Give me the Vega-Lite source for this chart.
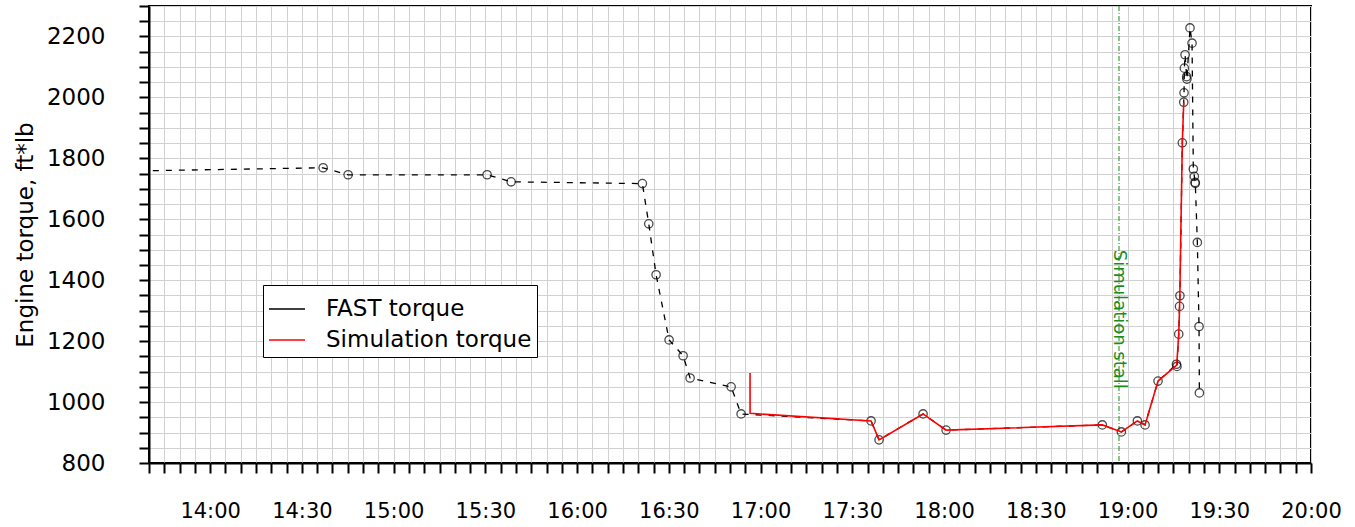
{
  "$schema": "https://vega.github.io/schema/vega-lite/v6.json",
  "autosize": {"type": "none"},
  "padding": {"left": 149, "top": 6, "right": 44, "bottom": 64},
  "width": 1162,
  "height": 457,
  "background": "white",
  "config": {
    "font": "DejaVu Sans",
    "view": {"stroke": "black", "strokeWidth": 2},
    "axis": {"labelColor": "black", "titleColor": "black", "tickColor": "black", "domainColor": "black"},
    "axisY": {"grid": true, "gridColor": "#d2d2d2"}
  },
  "datasets": {
    "torque": [
      {"series": "FAST torque", "time": "2024-01-01T13:20:00", "torque": 1756},
      {"series": "FAST torque", "time": "2024-01-01T14:36:57", "torque": 1769},
      {"series": "FAST torque", "time": "2024-01-01T14:45:07", "torque": 1746},
      {"series": "FAST torque", "time": "2024-01-01T15:30:34", "torque": 1746},
      {"series": "FAST torque", "time": "2024-01-01T15:38:25", "torque": 1723},
      {"series": "FAST torque", "time": "2024-01-01T16:21:21", "torque": 1717},
      {"series": "FAST torque", "time": "2024-01-01T16:23:26", "torque": 1585},
      {"series": "FAST torque", "time": "2024-01-01T16:25:50", "torque": 1418},
      {"series": "FAST torque", "time": "2024-01-01T16:30:05", "torque": 1204},
      {"series": "FAST torque", "time": "2024-01-01T16:34:40", "torque": 1152},
      {"series": "FAST torque", "time": "2024-01-01T16:36:57", "torque": 1079},
      {"series": "FAST torque", "time": "2024-01-01T16:50:22", "torque": 1050},
      {"series": "FAST torque", "time": "2024-01-01T16:53:38", "torque": 961},
      {"series": "FAST torque", "time": "2024-01-01T17:36:08", "torque": 938},
      {"series": "FAST torque", "time": "2024-01-01T17:38:45", "torque": 876},
      {"series": "FAST torque", "time": "2024-01-01T17:53:08", "torque": 961},
      {"series": "FAST torque", "time": "2024-01-01T18:00:40", "torque": 908},
      {"series": "FAST torque", "time": "2024-01-01T18:51:46", "torque": 925},
      {"series": "FAST torque", "time": "2024-01-01T18:57:59", "torque": 902},
      {"series": "FAST torque", "time": "2024-01-01T19:03:13", "torque": 938},
      {"series": "FAST torque", "time": "2024-01-01T19:05:44", "torque": 925},
      {"series": "FAST torque", "time": "2024-01-01T19:09:59", "torque": 1069},
      {"series": "FAST torque", "time": "2024-01-01T19:16:00", "torque": 1124},
      {"series": "FAST torque", "time": "2024-01-01T19:16:10", "torque": 1117},
      {"series": "FAST torque", "time": "2024-01-01T19:16:45", "torque": 1223},
      {"series": "FAST torque", "time": "2024-01-01T19:17:00", "torque": 1314},
      {"series": "FAST torque", "time": "2024-01-01T19:17:08", "torque": 1349},
      {"series": "FAST torque", "time": "2024-01-01T19:17:55", "torque": 1851},
      {"series": "FAST torque", "time": "2024-01-01T19:18:23", "torque": 1984},
      {"series": "FAST torque", "time": "2024-01-01T19:18:29", "torque": 2015},
      {"series": "FAST torque", "time": "2024-01-01T19:18:35", "torque": 2096},
      {"series": "FAST torque", "time": "2024-01-01T19:18:49", "torque": 2140},
      {"series": "FAST torque", "time": "2024-01-01T19:19:20", "torque": 2068},
      {"series": "FAST torque", "time": "2024-01-01T19:19:26", "torque": 2060},
      {"series": "FAST torque", "time": "2024-01-01T19:20:26", "torque": 2228},
      {"series": "FAST torque", "time": "2024-01-01T19:21:06", "torque": 2178},
      {"series": "FAST torque", "time": "2024-01-01T19:21:31", "torque": 1765},
      {"series": "FAST torque", "time": "2024-01-01T19:21:51", "torque": 1741},
      {"series": "FAST torque", "time": "2024-01-01T19:22:05", "torque": 1721},
      {"series": "FAST torque", "time": "2024-01-01T19:22:10", "torque": 1718},
      {"series": "FAST torque", "time": "2024-01-01T19:22:50", "torque": 1524},
      {"series": "FAST torque", "time": "2024-01-01T19:23:23", "torque": 1248},
      {"series": "FAST torque", "time": "2024-01-01T19:23:30", "torque": 1030},
      {"series": "Simulation torque", "time": "2024-01-01T16:56:33", "torque": 1095},
      {"series": "Simulation torque", "time": "2024-01-01T16:56:34", "torque": 963},
      {"series": "Simulation torque", "time": "2024-01-01T17:36:08", "torque": 938},
      {"series": "Simulation torque", "time": "2024-01-01T17:38:45", "torque": 876},
      {"series": "Simulation torque", "time": "2024-01-01T17:53:08", "torque": 961},
      {"series": "Simulation torque", "time": "2024-01-01T18:00:40", "torque": 908},
      {"series": "Simulation torque", "time": "2024-01-01T18:51:46", "torque": 925},
      {"series": "Simulation torque", "time": "2024-01-01T18:57:59", "torque": 902},
      {"series": "Simulation torque", "time": "2024-01-01T19:03:13", "torque": 938},
      {"series": "Simulation torque", "time": "2024-01-01T19:05:44", "torque": 925},
      {"series": "Simulation torque", "time": "2024-01-01T19:09:59", "torque": 1069},
      {"series": "Simulation torque", "time": "2024-01-01T19:16:05", "torque": 1121},
      {"series": "Simulation torque", "time": "2024-01-01T19:16:45", "torque": 1223},
      {"series": "Simulation torque", "time": "2024-01-01T19:17:04", "torque": 1330},
      {"series": "Simulation torque", "time": "2024-01-01T19:17:55", "torque": 1851},
      {"series": "Simulation torque", "time": "2024-01-01T19:18:23", "torque": 1984}
    ],
    "stall": [
      {"time": "2024-01-01T18:57:13", "torque": 1500, "label": "Simulation stall"}
    ]
  },
  "layer": [
    {
      "data": {"name": "stall"},
      "mark": {"type": "rule", "color": "#1a8c1a", "strokeWidth": 1, "strokeDash": [5, 2, 1, 2]},
      "encoding": {
        "x": {
          "field": "time", "type": "temporal",
          "scale": {"domain": [{"year": 2024, "month": 1, "date": 1, "hours": 13, "minutes": 40}, {"year": 2024, "month": 1, "date": 1, "hours": 20, "minutes": 0}]},
          "axis": {
            "title": null,
            "tickCount": 76,
            "format": "%H:%M",
            "labelExpr": "minutes(datum.value) % 30 === 0 ? datum.label : ''",
            "labelFontSize": 21,
            "labelPadding": 27,
            "labelOverlap": false,
            "labelFlush": false,
            "labelBound": false,
            "grid": true,
            "gridColor": "#d2d2d2",
            "gridWidth": 1,
            "tickSize": 10,
            "tickWidth": 2,
            "domainWidth": 2
          }
        }
      }
    },
    {
      "data": {"name": "stall"},
      "mark": {"type": "text", "angle": 90, "align": "left", "baseline": "middle", "color": "#1a8c1a", "fontSize": 18},
      "encoding": {
        "x": {"field": "time", "type": "temporal"},
        "y": {
          "field": "torque", "type": "quantitative",
          "scale": {"domain": [800, 2300], "nice": false, "zero": false},
          "axis": {
            "title": "Engine torque, ft*lb",
            "titleFontSize": 23,
            "titleFontWeight": "normal",
            "titlePadding": 9,
            "tickCount": 30,
            "format": "d",
            "labelExpr": "datum.value % 200 === 0 ? datum.label : ''",
            "labelFontSize": 23,
            "labelPadding": 34,
            "labelOverlap": false,
            "labelBound": false,
            "labelFlush": false,
            "grid": true,
            "gridColor": "#d2d2d2",
            "gridWidth": 1,
            "tickSize": 10,
            "tickWidth": 2,
            "domainWidth": 2
          }
        },
        "text": {"field": "label"}
      }
    },
    {
      "data": {"name": "torque"},
      "transform": [{"filter": "datum.series === 'FAST torque'"}],
      "mark": {"type": "line", "strokeDash": [6, 7], "strokeWidth": 1.3, "clip": true},
      "encoding": {
        "x": {"field": "time", "type": "temporal"},
        "y": {
          "field": "torque", "type": "quantitative",
          "scale": {"domain": [800, 2300], "nice": false, "zero": false},
          "axis": {
            "title": "Engine torque, ft*lb",
            "titleFontSize": 23,
            "titleFontWeight": "normal",
            "titlePadding": 9,
            "tickCount": 30,
            "format": "d",
            "labelExpr": "datum.value % 200 === 0 ? datum.label : ''",
            "labelFontSize": 23,
            "labelPadding": 34,
            "labelOverlap": false,
            "labelBound": false,
            "labelFlush": false,
            "grid": true,
            "gridColor": "#d2d2d2",
            "gridWidth": 1,
            "tickSize": 10,
            "tickWidth": 2,
            "domainWidth": 2
          }
        },
        "color": {
          "field": "series", "type": "nominal",
          "scale": {"domain": ["FAST torque", "Simulation torque"], "range": ["black", "#ff0000"]},
          "legend": {
            "title": null,
            "orient": "none",
            "legendX": 114,
            "legendY": 279,
            "padding": 5,
            "fillColor": "white",
            "strokeColor": "black",
            "labelFontSize": 23,
            "labelColor": "black",
            "labelLimit": 400,
            "symbolSize": 1296,
            "symbolStrokeWidth": 1.5,
            "labelOffset": 20,
            "rowPadding": 0
          }
        }
      }
    },
    {
      "data": {"name": "torque"},
      "transform": [{"filter": "datum.series === 'FAST torque'"}],
      "mark": {"type": "point", "shape": "circle", "filled": false, "color": "black", "size": 70, "strokeWidth": 1.3, "clip": true},
      "encoding": {
        "x": {"field": "time", "type": "temporal"},
        "y": {"field": "torque", "type": "quantitative"}
      }
    },
    {
      "data": {"name": "torque"},
      "transform": [{"filter": "datum.series === 'Simulation torque'"}],
      "mark": {"type": "line", "strokeWidth": 1.6, "clip": true},
      "encoding": {
        "x": {"field": "time", "type": "temporal"},
        "y": {"field": "torque", "type": "quantitative"},
        "color": {"field": "series", "type": "nominal"}
      }
    }
  ]
}
